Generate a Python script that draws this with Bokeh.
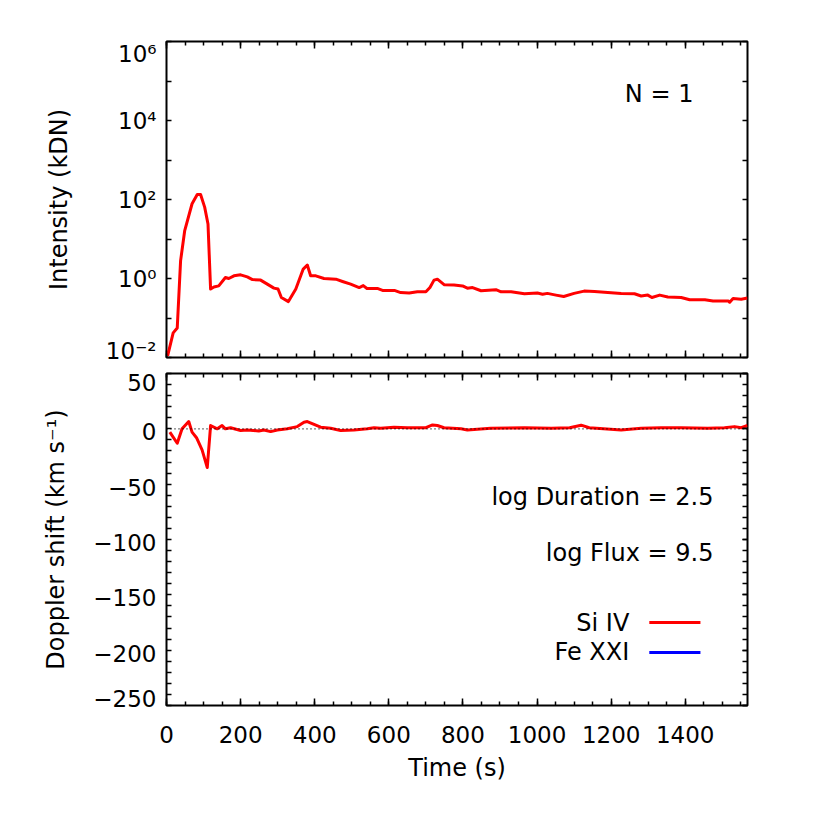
import math
from bokeh.plotting import figure
from bokeh.models import (Range1d, FixedTicker, LinearAxis, LogAxis, Span, Label,
                          CustomJSTickFormatter)
from bokeh.layouts import column
from bokeh.embed import file_html
from bokeh.resources import INLINE

# ---------------- data ----------------
time_int = [3, 18, 29, 38, 49, 69, 83, 92, 103, 112, 119, 128, 141, 159, 168,
            182, 200, 218, 232, 254, 272, 290, 301, 310, 329, 349, 369, 380, 389, 403,
            425, 457, 475, 497, 520, 531, 541, 569, 583, 615, 632, 655, 677, 700, 711,
            722, 731, 750, 776, 799, 812, 826, 849, 889, 903, 930, 966, 1001, 1015, 1028,
            1051, 1072, 1100, 1127, 1155, 1182, 1227, 1263, 1281, 1299, 1310, 1331, 1353,
            1389, 1412, 1453, 1475, 1516, 1520, 1529, 1551, 1568]
si_intensity = [0.011, 0.042, 0.056, 2.8, 16, 78, 134, 134, 64, 24, 0.54, 0.61, 0.65,
                1.06, 1.0, 1.17, 1.24, 1.1, 0.94, 0.91, 0.72, 0.57, 0.54, 0.33, 0.26,
                0.54, 1.73, 2.19, 1.17, 1.17, 1.0, 0.96, 0.84, 0.72, 0.59, 0.66, 0.56,
                0.56, 0.5, 0.5, 0.44, 0.43, 0.46, 0.46, 0.59, 0.91, 0.96, 0.69, 0.68,
                0.65, 0.57, 0.59, 0.49, 0.52, 0.46, 0.46, 0.41, 0.43, 0.40, 0.42, 0.38,
                0.35, 0.42, 0.48, 0.47, 0.45, 0.42, 0.41, 0.36, 0.38, 0.33, 0.38, 0.34,
                0.33, 0.29, 0.29, 0.27, 0.27, 0.25, 0.31, 0.30, 0.32]

time_dop = [9, 29, 42, 60, 69, 81, 96, 110, 119, 137, 150, 159, 173, 200, 218, 249,
            263, 281, 299, 326, 353, 371, 380, 398, 416, 443, 470, 506, 542, 560, 578,
            614, 650, 700, 718, 731, 749, 795, 812, 875, 966, 1038, 1088, 1119, 1141,
            1227, 1281, 1335, 1389, 1461, 1506, 1533, 1551, 1568]
si_doppler = [-3, -13, 0, 6.6, -3, -8, -19, -35, 3, 0, 3, 0, 1, -1.5, -1, -2, -1,
              -2.5, -1, 0, 2, 6, 6.6, 4, 1.5, 0.5, -1.5, -1, 0, 1, 0.5, 1.5, 1, 1,
              3.5, 3, 1, 0, -1, 0.5, 1, 0.5, 1, 3.3, 1, -1, 0.5, 1, 1, 0.5, 1, 2, 1, 3]

x_major = [0, 200, 400, 600, 800, 1000, 1200, 1400]
x_minor = list(range(0, 1600, 50))
int_major = [1e-2, 1e0, 1e2, 1e4, 1e6]
int_minor = [1e-1, 1e1, 1e3, 1e5]
dop_major = [-250, -200, -150, -100, -50, 0, 50]
dop_minor = list(range(-250, 60, 10))

series_labels = ["Si IV", "Fe XXI"]
series_colors = ["#ff0000", "#0000ff"]

# ---------------- style ----------------
FONT = "DejaVu Sans"
FS_TICK = "23px"
FS_TITLE = "24px"
FS_NOTE = "24px"
X_RANGE = (0, 1568)
TOP_FRAME_H = 316
BOT_FRAME_H = 332

x_range = Range1d(*X_RANGE)

# tick-label anchor positions: labels at the frame edges are nudged inward
# (as the reference does); the tick marks themselves are drawn as minor ticks.
dec_px = TOP_FRAME_H / (math.log10(int_major[-1]) - math.log10(int_major[0]))
int_label_pos = ([int_major[0] * 10 ** (7 / dec_px)] + int_major[1:-1]
                 + [int_major[-1] / 10 ** (12 / dec_px)])
unit_px = BOT_FRAME_H / (dop_major[-1] - dop_major[0])
dop_label_pos = ([dop_major[0] + 7 / unit_px]
                 + [v - 3 / unit_px for v in dop_major[1:-1]]
                 + [dop_major[-1] - 9 / unit_px])


def style_frame(p):
    p.outline_line_color = "black"
    p.outline_line_width = 2
    p.outline_line_alpha = 1
    p.xgrid.visible = False
    p.ygrid.visible = False
    p.background_fill_color = "white"
    p.border_fill_color = "white"


def style_axis(ax, maj_in, min_in, show_labels=True):
    ax.axis_line_color = None
    ax.major_tick_in = maj_in
    ax.major_tick_out = 0
    ax.minor_tick_in = min_in
    ax.minor_tick_out = 0
    ax.major_tick_line_width = 1.5
    ax.minor_tick_line_width = 1.5
    ax.major_tick_line_color = "black"
    ax.minor_tick_line_color = "black"
    ax.major_label_text_font = FONT
    ax.axis_label_text_font = FONT
    ax.axis_label_text_font_style = "normal"
    ax.axis_label_text_font_size = FS_TITLE
    ax.axis_label_text_color = "black"
    if show_labels:
        ax.major_label_text_font_size = FS_TICK
        ax.major_label_text_color = "black"
    else:
        ax.major_label_text_font_size = "2px"
        ax.major_label_text_color = None
        ax.major_label_standoff = 0


x_ticker = FixedTicker(ticks=x_major, minor_ticks=x_minor)
log_ticker = FixedTicker(ticks=int_major, minor_ticks=int_minor)
dop_ticker = FixedTicker(ticks=dop_major, minor_ticks=dop_minor)

# ---------------- top panel: intensity ----------------
top = figure(frame_width=581, frame_height=TOP_FRAME_H, x_range=x_range,
             y_range=Range1d(int_major[0], int_major[-1]), y_axis_type="log",
             output_backend="svg", toolbar_location=None,
             min_border_left=166, min_border_right=40,
             min_border_top=41, min_border_bottom=8)
style_frame(top)

top.xaxis.ticker = x_ticker
style_axis(top.xaxis[0], 7, 4, show_labels=False)

top.yaxis.ticker = FixedTicker(ticks=int_label_pos, minor_ticks=int_major + int_minor)
top.yaxis.formatter = CustomJSTickFormatter(code="""
const e = Math.round(Math.log10(tick));
const sup = {'-':'\u207b','0':'\u2070','1':'\u00b9','2':'\u00b2','3':'\u00b3',
             '4':'\u2074','5':'\u2075','6':'\u2076','7':'\u2077','8':'\u2078','9':'\u2079'};
return '10' + String(e).split('').map(c => sup[c]).join('');
""")
style_axis(top.yaxis[0], 0, 5)
top.yaxis.axis_label = "Intensity (kDN)"
top.yaxis.major_label_standoff = 10
top.yaxis.axis_label_standoff = 30

ax_t = LinearAxis(ticker=x_ticker)
style_axis(ax_t, 7, 4, show_labels=False)
top.add_layout(ax_t, "above")
ax_r = LogAxis(ticker=log_ticker)
style_axis(ax_r, 5, 5, show_labels=False)
top.add_layout(ax_r, "right")

top.line(time_int, si_intensity, line_color=series_colors[0], line_width=3,
         line_join="round")

top.add_layout(Label(x=1422, y=10 ** 4.67, text="N = 1", text_align="right",
                     text_baseline="middle", text_font=FONT, text_font_size=FS_NOTE,
                     text_color="black"))

# ---------------- bottom panel: Doppler shift ----------------
bot = figure(frame_width=581, frame_height=BOT_FRAME_H, x_range=x_range,
             y_range=Range1d(dop_major[0], dop_major[-1]),
             output_backend="svg", toolbar_location=None,
             min_border_left=166, min_border_right=40,
             min_border_top=8, min_border_bottom=85)
style_frame(bot)

bot.xaxis.ticker = x_ticker
style_axis(bot.xaxis[0], 7, 4)
bot.xaxis.axis_label = "Time (s)"
bot.xaxis.major_label_standoff = 20
bot.xaxis.axis_label_standoff = 8

bot.yaxis.ticker = FixedTicker(ticks=dop_label_pos, minor_ticks=dop_minor)
bot.yaxis.formatter = CustomJSTickFormatter(code="""
const v = Math.round(tick / 50) * 50;
return v < 0 ? '\u2212' + Math.abs(v) : String(v);
""")
style_axis(bot.yaxis[0], 0, 5)
bot.yaxis.axis_label = "Doppler shift (km s\u207b\u00b9)"
bot.yaxis.major_label_standoff = 10
bot.yaxis.axis_label_standoff = 20

ax_t2 = LinearAxis(ticker=x_ticker)
style_axis(ax_t2, 7, 4, show_labels=False)
bot.add_layout(ax_t2, "above")
ax_r2 = LinearAxis(ticker=dop_ticker)
style_axis(ax_r2, 5, 5, show_labels=False)
bot.add_layout(ax_r2, "right")

bot.add_layout(Span(location=0, dimension="width", line_color="black",
                    line_width=1.2, line_dash="1 3"))

bot.line(time_dop, si_doppler, line_color=series_colors[0], line_width=3,
         line_join="round")

# annotations
for txt, yv in [("log Duration = 2.5", -62), ("log Flux = 9.5", -112)]:
    bot.add_layout(Label(x=1476, y=yv, text=txt, text_align="right",
                         text_baseline="middle", text_font=FONT, text_font_size=FS_NOTE,
                         text_color="black"))

# legend (label left, line right as in the reference)
LEG_TEXT_X = 1249
LEG_LINE_X = [1303, 1441]
LEG_Y = [-175, -202]
for lab, col, yv in zip(series_labels, series_colors, LEG_Y):
    bot.add_layout(Label(x=LEG_TEXT_X, y=yv, text=lab, text_align="right",
                         text_baseline="middle", text_font=FONT, text_font_size=FS_NOTE,
                         text_color="black"))
    bot.line(LEG_LINE_X, [yv, yv], line_color=col, line_width=3)

p = column(top, bot, spacing=0)
open("out.html", "w", encoding="utf-8").write(file_html(p, INLINE))
